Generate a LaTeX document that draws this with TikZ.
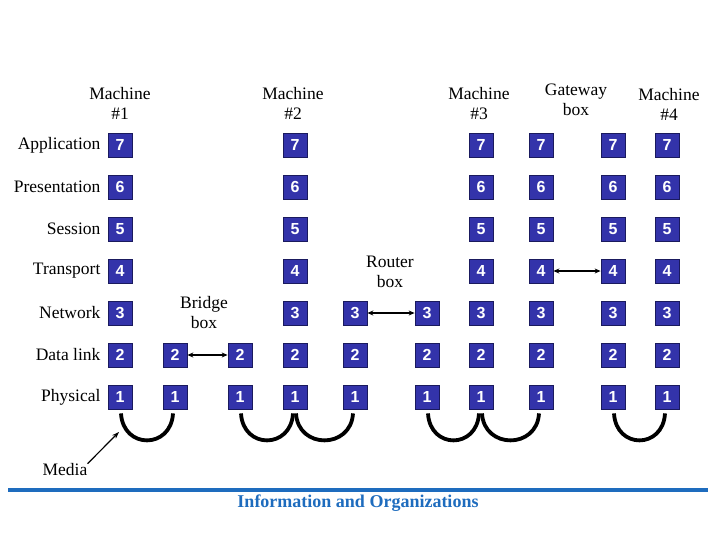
\documentclass[tikz,border=0pt]{standalone}
\usepackage{fontspec}
\setmainfont{Liberation Serif}
\setsansfont{Liberation Sans}
\usepackage{tikz}
\usetikzlibrary{
  arrows.meta,
  positioning
}
\definecolor{layerblue}{HTML}{3333AA}
\definecolor{layeredge}{HTML}{1A1A5E}
\definecolor{rulerblue}{HTML}{1E6CBE}

\begin{document}
\begin{tikzpicture}[
  x=1pt, y=-1pt,
  layerB/.style={
    draw=layeredge, fill=layerblue, line width=0.8pt, minimum size=24pt, inner sep=0pt,
    font=\fontsize{16}{16}\selectfont\sffamily\bfseries, text=white,
  },
  labelT/.style={font=\fontsize{17.5}{20}\selectfont, inner sep=0pt},
  headT/.style={font=\fontsize{17.5}{20}\selectfont, align=center, inner sep=0pt},
  linkA/.style={{Stealth[length=6pt,width=5pt]}-{Stealth[length=6pt,width=5pt]}, line width=1.3pt},
  mediaL/.style={line width=3.8pt},
]
\useasboundingbox (0,0) rectangle (720,540);

% Layer boxes, one column per machine or box side
\foreach \c/\x/\top in {a/120/7, b/175/2, c/240/2, d/295/7, e/355/3,
                         f/427/3, g/481/7, h/541/7, i/613/7, j/667/7}
  \foreach \r in {1,...,\top}
    \node[layerB] (\c\r) at (\x,{397-42*(\r-1)}) {\r};

% Layer names
\node[labelT, left=7pt of a7] (lapp) {Application};
\node[labelT, left=7pt of a6] (lpre) {Presentation};
\node[labelT, left=7pt of a5] (lses) {Session};
\node[labelT, left=7pt of a4] (ltra) {Transport};
\node[labelT, left=7pt of a3] (lnet) {Network};
\node[labelT, left=7pt of a2] (ldat) {Data link};
\node[labelT, left=7pt of a1] (lphy) {Physical};

% Headings
\node[headT] (hm1) at (120,103) {Machine\\\#1};
\node[headT] (hm2) at (293,103) {Machine\\\#2};
\node[headT] (hm3) at (479,104) {Machine\\\#3};
\node[headT] (hgw) at (576,100) {Gateway\\box};
\node[headT] (hm4) at (669,104) {Machine\\\#4};
\node[headT] (hbr) at (204,313) {Bridge\\box};
\node[headT] (hro) at (390,272) {Router\\box};

% Peer links
\draw[linkA] (b2) -- (c2);
\draw[linkA] (e3) -- (f3);
\draw[linkA] (h4) -- (i4);

% Media
\foreach \p/\q in {a/b, c/d, d/e, f/g, g/h, i/j}
  \draw[mediaL] ([xshift=1pt,yshift=-4pt]\p1.south) .. controls +(2,36) and +(-2,36) .. ([xshift=-2pt,yshift=-4pt]\q1.south);

\node[labelT] (media) at (65,470) {Media};
\coordinate (mtip) at (119,432);
\draw[-{Stealth[length=7pt,width=5pt]}, line width=1.2pt] (media.north east) -- (mtip);

% Footer
\coordinate (rl) at (8,490);
\coordinate (rr) at (708,490);
\draw[rulerblue, line width=4pt] (rl) -- (rr);
\node[font=\fontsize{18}{20}\selectfont\bfseries, text=rulerblue] (foot) at (358,503) {Information and Organizations};

\end{tikzpicture}
\end{document}
